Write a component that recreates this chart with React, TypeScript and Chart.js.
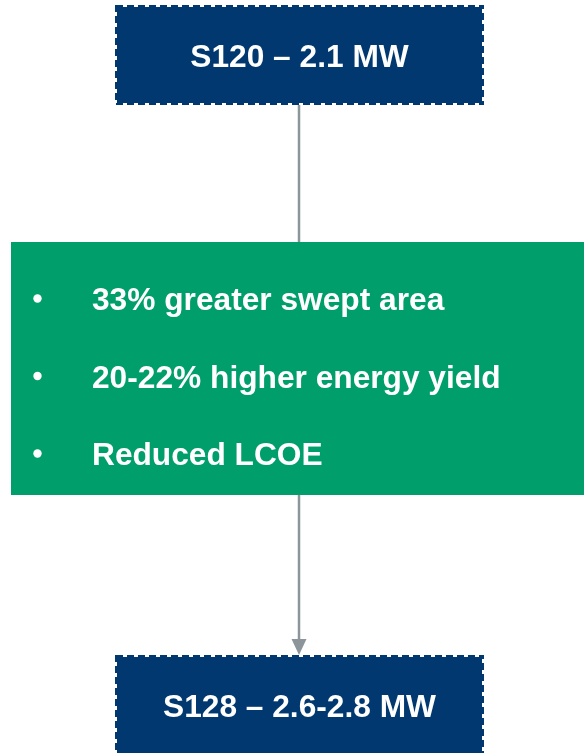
import React, { useEffect, useRef } from "react";
import { Chart, registerables } from "chart.js";

Chart.register(...registerables);

const topLabel = "S120 – 2.1 MW";
const bottomLabel = "S128 – 2.6-2.8 MW";
const benefits = ["33% greater swept area", "20-22% higher energy yield", "Reduced LCOE"];

const NAVY = "#00386f";
const GREEN = "#009e6b";
const GRAY = "#8c959a";
const FONT = "bold 31.7px 'Liberation Sans', Arial, sans-serif";

const W = 584;
const H = 753;

const diagramPlugin = {
  id: "diagram",
  afterDraw(chart: any) {
    const { ctx } = chart;
    const xs = chart.scales.x;
    const ys = chart.scales.y;
    const px = (v: number) => xs.getPixelForValue(v);
    const py = (v: number) => ys.getPixelForValue(v);

    const dashedBox = (x0: number, y0: number, x1: number, y1: number, text: string) => {
      const l = px(x0), r = px(x1), t = py(y0), b = py(y1);
      ctx.save();
      ctx.fillStyle = NAVY;
      ctx.fillRect(l + 2, t + 2, r - l - 4, b - t - 4);
      ctx.strokeStyle = NAVY;
      ctx.lineWidth = 2;
      ctx.setLineDash([7, 4]);
      ctx.strokeRect(l + 1, t + 1, r - l - 2, b - t - 2);
      ctx.setLineDash([]);
      ctx.fillStyle = "#ffffff";
      ctx.font = FONT;
      ctx.textAlign = "center";
      ctx.textBaseline = "alphabetic";
      ctx.fillText(text, (l + r) / 2, (t + b) / 2 + 12);
      ctx.restore();
    };

    ctx.save();
    // connectors
    ctx.strokeStyle = GRAY;
    ctx.lineWidth = 2.5;
    ctx.beginPath();
    ctx.moveTo(px(299), py(105));
    ctx.lineTo(px(299), py(242));
    ctx.moveTo(px(299), py(495));
    ctx.lineTo(px(299), py(642));
    ctx.stroke();
    ctx.fillStyle = GRAY;
    ctx.beginPath();
    ctx.moveTo(px(291.5), py(639));
    ctx.lineTo(px(306.5), py(639));
    ctx.lineTo(px(299), py(655));
    ctx.closePath();
    ctx.fill();

    // green box
    ctx.fillStyle = GREEN;
    ctx.fillRect(px(11), py(242), px(584) - px(11), py(495) - py(242));
    ctx.fillStyle = "#ffffff";
    ctx.font = FONT;
    ctx.textAlign = "left";
    ctx.textBaseline = "alphabetic";
    benefits.forEach((t, i) => {
      const base = 310 + i * 77.5;
      ctx.beginPath();
      ctx.arc(px(37.5), py(base - 11.5), 4.2, 0, Math.PI * 2);
      ctx.fill();
      ctx.fillText(t, px(92), py(base));
    });
    ctx.restore();

    dashedBox(115, 5, 484, 105, topLabel);
    dashedBox(115, 655, 484, 755, bottomLabel);
  },
};

export default function App() {
  const ref = useRef<HTMLCanvasElement | null>(null);
  useEffect(() => {
    document.body.style.margin = "0";
    const chart = new Chart(ref.current as HTMLCanvasElement, {
      type: "scatter",
      data: { datasets: [{ data: [], showLine: false }] },
      options: {
        animation: false,
        responsive: false,
        layout: { padding: 0 },
        plugins: { legend: { display: false }, tooltip: { enabled: false }, title: { display: false } },
        scales: {
          x: { type: "linear", min: 0, max: W, display: false },
          y: { type: "linear", min: 0, max: H, reverse: true, display: false },
        },
      },
      plugins: [diagramPlugin],
    });
    return () => chart.destroy();
  }, []);
  return (
    <div style={{ position: "fixed", left: 0, top: 0, width: W, height: H, background: "#fff" }}>
      <canvas ref={ref} width={W} height={H} style={{ display: "block", width: W, height: H }} />
    </div>
  );
}
